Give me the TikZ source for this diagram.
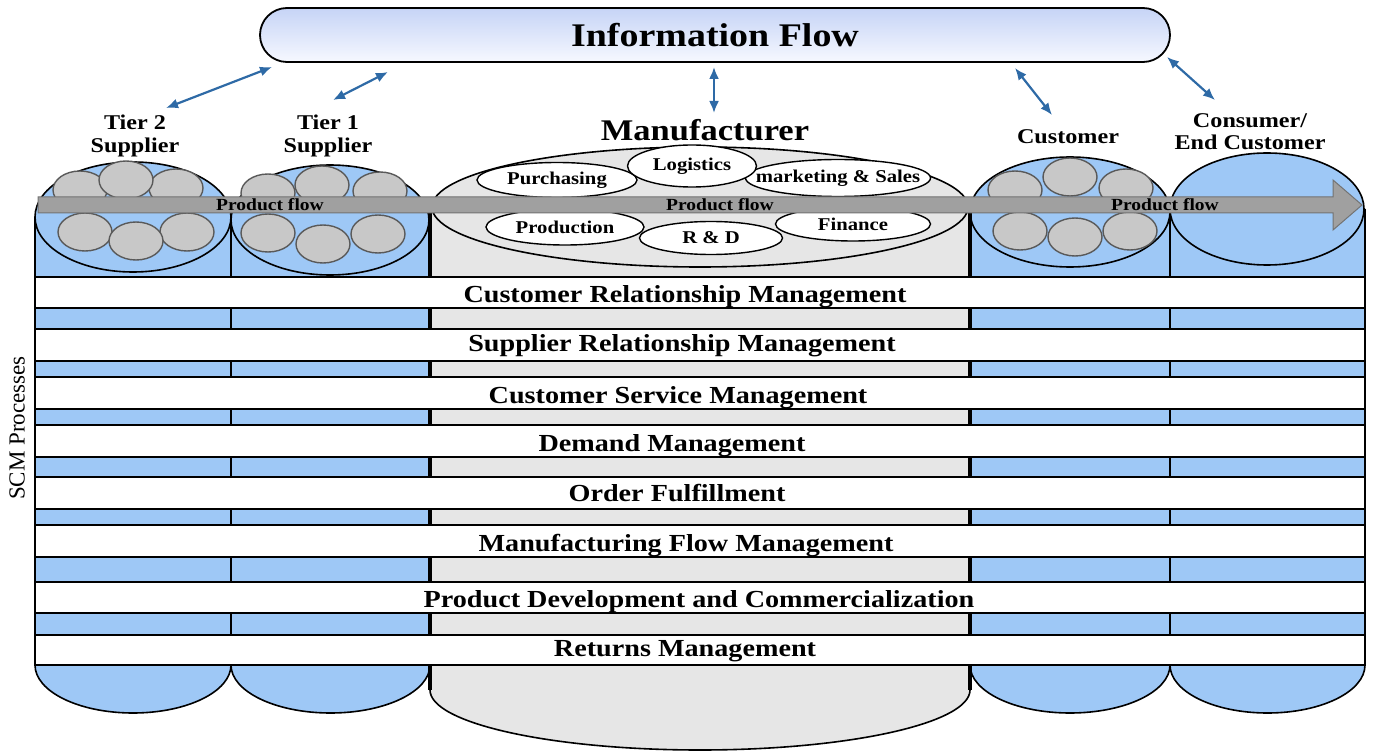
\documentclass[tikz,border=0pt]{standalone}
\usepackage{fontspec}
\setmainfont{Liberation Serif}
\newfontfamily\widefont[FakeStretch=1.15]{Liberation Serif}
\usetikzlibrary{shapes.geometric}
\usetikzlibrary{arrows.meta}
\definecolor{colblue}{RGB}{158,200,246}
\definecolor{mfrgrey}{RGB}{230,230,230}
\definecolor{ballgrey}{RGB}{200,200,200}
\definecolor{flowgrey}{RGB}{160,160,160}
\definecolor{linkblue}{RGB}{46,106,166}
\definecolor{boxtop}{RGB}{198,212,246}
\definecolor{boxbot}{RGB}{246,248,255}
\newcommand{\nobox}[1]{\makebox[0pt]{#1}}

\begin{document}
\begin{tikzpicture}[x=1pt,y=-1pt,>/.tip={Latex[length=12pt,width=10pt]},
	col/.style={draw=black,line width=1.6pt,fill=colblue},
	ball/.style={draw=black!65,line width=1.4pt,fill=ballgrey},
	ell/.style={draw,shape=ellipse,fill=white,line width=1.4pt,inner sep=0pt,font=\widefont\bfseries\fontsize{18}{20}\selectfont},
	row/.style={draw,fill=white,line width=1.6pt,minimum width=1330pt,inner sep=0pt},
	rowtext/.style={text height=21pt,text depth=1pt,font=\widefont\bfseries\fontsize{24.5}{28}\selectfont},
	party/.style={align=center,font=\widefont\bfseries\fontsize{21}{23}\selectfont},
	pflow/.style={font=\widefont\bfseries\fontsize{17}{18}\selectfont},
	link/.style={<->,draw=linkblue,line width=2.2pt}]
	\useasboundingbox (0,0) rectangle (1377,754);

	\draw[col] (35,217) -- (35,665) arc[start angle=180,end angle=0,x radius=98,y radius=48] -- (231,217);
	\draw[col] (231,220) -- (231,665) arc[start angle=180,end angle=0,x radius=99.5,y radius=48] -- (430,220);
	\draw[col] (970,212) -- (970,665) arc[start angle=180,end angle=0,x radius=100,y radius=48] -- (1170,212);
	\draw[col] (1170,209) -- (1170,665) arc[start angle=180,end angle=0,x radius=97.5,y radius=48] -- (1365,209);
	\draw[col] (133,217) ellipse [x radius=98,y radius=55];
	\draw[col] (330,220) ellipse [x radius=99,y radius=55];
	\draw[col] (1070,212) ellipse [x radius=100,y radius=55];
	\draw[col] (1267,209) ellipse [x radius=97,y radius=56];

	\draw[fill=mfrgrey,line width=1.6pt] (430,207) -- (430,690) arc[start angle=180,end angle=0,x radius=270,y radius=60] -- (970,207);
	\draw[line width=3.5pt] (430,207) -- (430,690);
	\draw[line width=3.5pt] (970,207) -- (970,690);
	\draw[fill=mfrgrey,line width=1.6pt] (700,207) ellipse [x radius=268,y radius=60];

	\draw[ball] (80,190) ellipse [x radius=27,y radius=19];
	\draw[ball] (176,188) ellipse [x radius=27,y radius=19];
	\draw[ball] (126,180) ellipse [x radius=27,y radius=19];
	\draw[ball] (85,232) ellipse [x radius=27,y radius=19];
	\draw[ball] (187,232) ellipse [x radius=27,y radius=19];
	\draw[ball] (136,241) ellipse [x radius=27,y radius=19];
	\draw[ball] (268,193) ellipse [x radius=27,y radius=19];
	\draw[ball] (380,191) ellipse [x radius=27,y radius=19];
	\draw[ball] (322,185) ellipse [x radius=27,y radius=19];
	\draw[ball] (268,233) ellipse [x radius=27,y radius=19];
	\draw[ball] (378,234) ellipse [x radius=27,y radius=19];
	\draw[ball] (323,244) ellipse [x radius=27,y radius=19];
	\draw[ball] (1015,190) ellipse [x radius=27,y radius=19];
	\draw[ball] (1126,188) ellipse [x radius=27,y radius=19];
	\draw[ball] (1070,177) ellipse [x radius=27,y radius=19];
	\draw[ball] (1020,231) ellipse [x radius=27,y radius=19];
	\draw[ball] (1130,231) ellipse [x radius=27,y radius=19];
	\draw[ball] (1075,237) ellipse [x radius=27,y radius=19];

	\draw (557,180) node (purch) [ell,minimum width=160pt,minimum height=35pt] {\nobox{Purchasing}};
	\draw (838,178) node (mkt) [ell,minimum width=185pt,minimum height=37pt] {\nobox{marketing \& Sales}};
	\draw (692,166) node (logist) [ell,minimum width=129pt,minimum height=42pt] {\nobox{Logistics}};
	\draw (565,227) node (prod) [ell,minimum width=158pt,minimum height=36pt] {\nobox{Production}};
	\draw (853,224) node (fin) [ell,minimum width=155pt,minimum height=34pt] {\nobox{Finance}};
	\draw (711,238) node (rnd) [ell,minimum width=143pt,minimum height=33pt] {\nobox{R \& D}};

	\draw[fill=flowgrey,draw=black!55,line width=1pt] (38,197) -- (1333,197) -- (1333,180) -- (1362,205) -- (1333,230) -- (1333,213) -- (38,213) -- cycle;
	\draw (270,205) node (pfa) [pflow] {Product flow};
	\draw (720,205) node (pfb) [pflow] {Product flow};
	\draw (1165,205) node (pfc) [pflow] {Product flow};

	\draw (700,292.5) node (crm) [row,minimum height=31pt] {};
	\draw (700,345) node (srm) [row,minimum height=32pt] {};
	\draw (700,393) node (csm) [row,minimum height=32pt] {};
	\draw (700,441) node (dm) [row,minimum height=32pt] {};
	\draw (700,493) node (of) [row,minimum height=32pt] {};
	\draw (700,541) node (mfm) [row,minimum height=32pt] {};
	\draw (700,597.5) node (pdc) [row,minimum height=31pt] {};
	\draw (700,650) node (rm) [row,minimum height=30pt] {};
	\node [rowtext] (crmtext) at ([xshift=-15pt]crm) {Customer Relationship Management};
	\node [rowtext] (srmtext) at ([xshift=-18pt,yshift=3pt]srm) {Supplier Relationship Management};
	\node [rowtext] (csmtext) at ([xshift=-22pt]csm) {Customer Service Management};
	\node [rowtext] (dmtext) at ([xshift=-28pt]dm) {Demand Management};
	\node [rowtext] (oftext) at ([xshift=-23pt,yshift=2pt]of) {Order Fulfillment};
	\node [rowtext] (mfmtext) at ([xshift=-14pt]mfm) {Manufacturing Flow Management};
	\node [rowtext] (pdctext) at ([xshift=-1pt]pdc) {Product Development and Commercialization};
	\node [rowtext] (rmtext) at ([xshift=-15pt,yshift=4pt]rm) {Returns Management};

	\draw (715,35) node (info) [draw,line width=1.8pt,rounded corners=27pt,minimum width=910pt,minimum height=54pt,top color=boxtop,bottom color=boxbot,font=\widefont\bfseries\fontsize{33}{36}\selectfont] {Information Flow};
	\draw (135,136) node (tiertwo) [party] {Tier 2\\Supplier};
	\draw (328,136) node (tierone) [party] {Tier 1\\Supplier};
	\draw (705,130) node (mfr) [party,font=\widefont\bfseries\fontsize{30}{32}\selectfont] {Manufacturer};
	\draw (1068,137) node (cust) [party] {Customer};
	\draw (1250,132) node (cons) [party,font=\widefont\bfseries\fontsize{21}{22}\selectfont] {Consumer/\\End Customer};
	\draw (17,428) node (scm) [rotate=90,font=\fontsize{23}{24}\selectfont] {SCM Processes};

	\coordinate (ia) at (272,67);
	\coordinate (ta) at (166,108);
	\coordinate (ib) at (388,72);
	\coordinate (tb) at (333,100);
	\coordinate (ic) at (714,67);
	\coordinate (tc) at (714,113);
	\coordinate (id) at (1015,68);
	\coordinate (td) at (1052,115);
	\coordinate (ie) at (1167,57);
	\coordinate (te) at (1215,100);
	\draw[link] (ia) -- (ta);
	\draw[link] (ib) -- (tb);
	\draw[link] (ic) -- (tc);
	\draw[link] (id) -- (td);
	\draw[link] (ie) -- (te);
\end{tikzpicture}
\end{document}
